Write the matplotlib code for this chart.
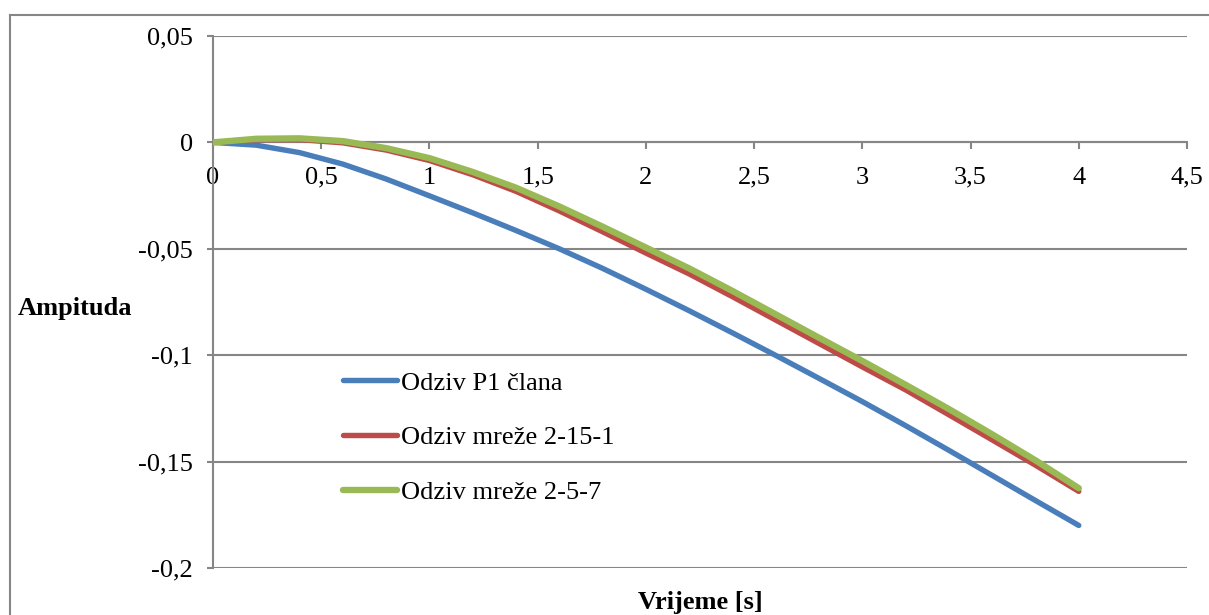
import matplotlib
matplotlib.use("Agg")
import matplotlib.pyplot as plt
from matplotlib.lines import Line2D

plt.rcParams['font.family'] = ['Liberation Serif', 'DejaVu Serif']

# time axis [s]
t = [0, 0.2, 0.4, 0.6, 0.8, 1.0, 1.2, 1.4, 1.6, 1.8, 2.0,
     2.2, 2.4, 2.6, 2.8, 3.0, 3.2, 3.4, 3.6, 3.8, 4.0]

# response values
p1 = [0, -0.0013, -0.0048, -0.0102, -0.0172, -0.0251, -0.0331, -0.0414, -0.0500, -0.0592, -0.0690,
      -0.0791, -0.0895, -0.1001, -0.1109, -0.1218, -0.1331, -0.1447, -0.1565, -0.1683, -0.1800]
net_2_15_1 = [0, 0.0013, 0.0013, -0.0002, -0.0036, -0.0085, -0.0152, -0.0230, -0.0322, -0.0420, -0.0520,
              -0.0618, -0.0725, -0.0835, -0.0945, -0.1055, -0.1163, -0.1280, -0.1398, -0.1517, -0.1640]
net_2_5_7 = [0, 0.0017, 0.0019, 0.0006, -0.0027, -0.0074, -0.0139, -0.0213, -0.0301, -0.0396, -0.0494,
             -0.0592, -0.0698, -0.0808, -0.0918, -0.1027, -0.1139, -0.1253, -0.1372, -0.1494, -0.1625]

labels = ["Odziv P1 člana", "Odziv mreže 2-15-1", "Odziv mreže 2-5-7"]
colors = ["#4A7EBB", "#BE4B48", "#98B954"]

y_ticks = [0.05, 0, -0.05, -0.1, -0.15, -0.2]
y_labels = ["0,05", "0", "-0,05", "-0,1", "-0,15", "-0,2"]
x_ticks = [0, 0.5, 1, 1.5, 2, 2.5, 3, 3.5, 4, 4.5]
x_labels = ["0", "0,5", "1", "1,5", "2", "2,5", "3", "3,5", "4", "4,5"]

W, H = 1209, 615
fig = plt.figure(figsize=(W / 100, H / 100), dpi=100)
ax = fig.add_axes([213 / W, 1 - 568 / H, 974 / W, 532 / H])

grid_col = "#868686"
for yv in y_ticks:
    ax.axhline(yv, color=grid_col, lw=1.5, zorder=1)

ax.plot(t, p1, color=colors[0], lw=3.9, label=labels[0], solid_capstyle='round', zorder=3)
ax.plot(t, net_2_15_1, color=colors[1], lw=3.9, label=labels[1], solid_capstyle='round', zorder=4)
ax.plot(t, net_2_5_7, color=colors[2], lw=4.6, label=labels[2], solid_capstyle='round', zorder=5)

ax.set_xlim(0, 4.5)
ax.set_ylim(-0.2, 0.05)
ax.set_yticks(y_ticks)
ax.set_yticklabels(y_labels)
ax.set_xticks(x_ticks)
ax.set_xticklabels(x_labels)

for s in ['top', 'right']:
    ax.spines[s].set_visible(False)
ax.spines['left'].set_color(grid_col)
ax.spines['left'].set_linewidth(1.5)
ax.spines['bottom'].set_position(('data', 0))
ax.spines['bottom'].set_color(grid_col)
ax.spines['bottom'].set_linewidth(1.5)

ax.tick_params(axis='y', direction='out', length=4.5, width=1.5, color=grid_col,
               labelsize=19, pad=10)
ax.tick_params(axis='x', direction='out', length=5, width=1.5, color=grid_col,
               labelsize=19, pad=12.5)

leg = ax.legend(loc='upper left', bbox_to_anchor=(0.1335, 0.370), frameon=False,
                fontsize=19, handlelength=2.05, handletextpad=0.15, labelspacing=1.18,
                borderaxespad=0, borderpad=0)

fig.text(18 / W, 1 - 308 / H, "Ampituda", fontsize=19, fontweight='bold',
         ha='left', va='center')
fig.text(700 / W, 1 - 603 / H, "Vrijeme [s]", fontsize=19, fontweight='bold',
         ha='center', va='center')

# outer chart frame (cropped at right and bottom)
fig.add_artist(Line2D([10 / W, 1.01], [1 - 15 / H, 1 - 15 / H], color=grid_col, lw=1.5))
fig.add_artist(Line2D([10 / W, 10 / W], [1 - 15 / H, -0.01], color=grid_col, lw=1.5))

fig.savefig("out.png", dpi=100)
